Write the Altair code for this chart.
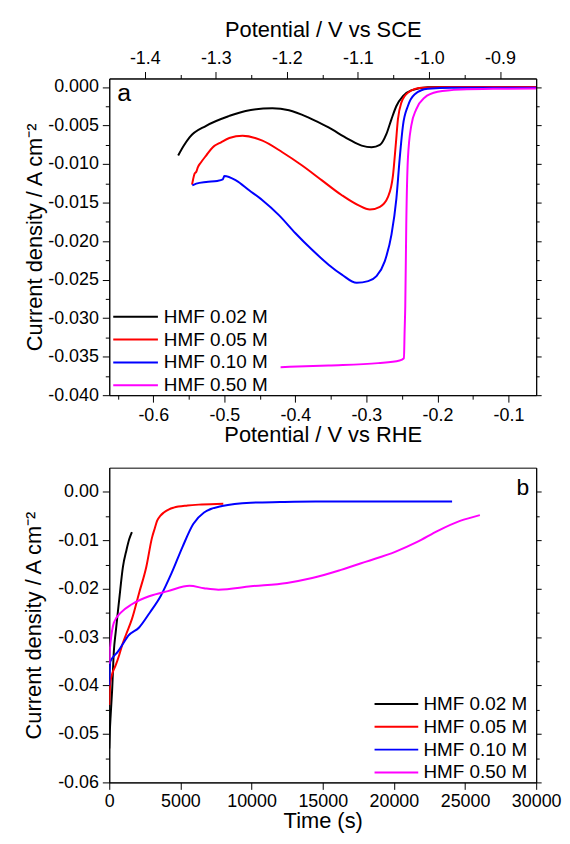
import altair as alt
import pandas as pd

FONT = "Liberation Sans"

series_labels = ["HMF 0.02 M", "HMF 0.05 M", "HMF 0.10 M", "HMF 0.50 M"]
series_colors = ["#000000", "#ff0000", "#0000ff", "#ff00ff"]

# ---------- Panel a: LSV curves (potential vs RHE, current density) ----------
rhe_002 = [-0.565, -0.557, -0.549, -0.5256, -0.493, -0.470, -0.4324, -0.409, -0.3813, -0.3533,
           -0.3254, -0.3067, -0.2927, -0.281, -0.2718, -0.2648, -0.2578, -0.2486, -0.2369, -0.2137,
           -0.18, -0.12, -0.061]
j_002 = [-0.0089, -0.0076, -0.00654, -0.00504, -0.00376, -0.00311, -0.00277, -0.00302, -0.00397, -0.00526,
         -0.00676, -0.00761, -0.00783, -0.00753, -0.0061, -0.0042, -0.00247, -0.00118, -0.00045, -0.00005,
         0.0, 0.0, 0.0]

rhe_005 = [-0.5455, -0.5440, -0.5419, -0.5395, -0.5372, -0.5330, -0.5256, -0.5162, -0.5046, -0.493,
           -0.4743, -0.4464, -0.4184, -0.3905, -0.3626, -0.3346, -0.3115, -0.2951, -0.281, -0.2696,
           -0.2626, -0.2588, -0.2556, -0.2508, -0.2416, -0.2229, -0.18, -0.12, -0.061]
j_005 = [-0.01268, -0.0120, -0.01126, -0.0110, -0.0104, -0.0098, -0.0089, -0.00783, -0.00718, -0.00663,
         -0.00633, -0.00697, -0.00847, -0.01019, -0.01212, -0.01405, -0.01534, -0.0159, -0.01555, -0.01426,
         -0.01148, -0.00762, -0.00418, -0.00203, -0.00075, -0.0001, 0.0, 0.0, 0.0]

rhe_010 = [-0.5451, -0.5395, -0.5256, -0.5100, -0.5022, -0.5000, -0.4837, -0.4651, -0.4464, -0.4232,
           -0.3999, -0.3765, -0.3533, -0.3346, -0.3137, -0.2975, -0.2858, -0.2742, -0.2648, -0.2578,
           -0.2532, -0.2486, -0.2416, -0.2323, -0.2137, -0.18, -0.12, -0.061]
j_010 = [-0.01277, -0.01255, -0.01233, -0.0122, -0.0120, -0.01156, -0.01212, -0.01341, -0.0147, -0.01663,
         -0.01898, -0.02113, -0.02306, -0.02435, -0.02542, -0.0252, -0.02456, -0.02263, -0.0192, -0.01448,
         -0.00933, -0.00504, -0.00247, -0.00097, -0.00023, -0.0001, -0.0001, -0.0001]

rhe_050 = [-0.4208, -0.3533, -0.2835, -0.2532, -0.2472, -0.2462, -0.2453, -0.2439, -0.2416, -0.2369,
           -0.2299, -0.2183, -0.1997, -0.167, -0.1205, -0.061]
j_050 = [-0.03636, -0.03614, -0.03584, -0.0355, -0.0352, -0.03164, -0.02842, -0.01791, -0.00933, -0.00504,
         -0.0029, -0.00139, -0.00062, -0.00032, -0.00023, -0.0002]

# ---------- Panel b: chronoamperometry (time, current density) ----------
t_002 = [0, 40, 100, 200, 320, 450, 700, 960, 1210, 1400, 1590]
jt_002 = [-0.053, -0.0495, -0.046, -0.041, -0.033, -0.029, -0.0222, -0.0155, -0.012, -0.0098, -0.0083]

t_005 = [0, 70, 250, 452, 700, 900, 1200, 1590, 2097, 2605, 3000, 3200, 3365, 3600, 3832, 4200, 4528,
         5500, 6500, 8012]
jt_005 = [-0.044, -0.0395, -0.0372, -0.0358, -0.0337, -0.0317, -0.0293, -0.02628, -0.02087, -0.01545,
          -0.0095, -0.0075, -0.00596, -0.0049, -0.00427, -0.0036, -0.00325, -0.0028, -0.0026, -0.00244]

t_010 = [0, 70, 300, 578, 1000, 1338, 2097, 2857, 3616, 4376, 5142, 5901, 6660, 7928, 9949, 12000,
         14512, 18000, 21000, 24090]
jt_010 = [-0.040, -0.0351, -0.0340, -0.0331, -0.0312, -0.0297, -0.0280, -0.0249, -0.0215, -0.0168,
          -0.0114, -0.00664, -0.00427, -0.00291, -0.00224, -0.0021, -0.002, -0.002, -0.002, -0.002]

t_050 = [0, 30, 70, 325, 830, 1590, 2857, 4126, 5643, 6660, 7670, 9949, 12484, 14260, 16288, 18060,
         20087, 21605, 23124, 24650, 26043]
jt_050 = [-0.0355, -0.033, -0.0317, -0.027, -0.0249, -0.0232, -0.0215, -0.0205, -0.0194, -0.0199,
          -0.0202, -0.0195, -0.0188, -0.0178, -0.0161, -0.0144, -0.0124, -0.0104, -0.008, -0.006, -0.0048]

# axis settings
SCE_OFFSET = 0.788
rhe_domain = [-0.662, -0.061]
sce_domain = [rhe_domain[0] - SCE_OFFSET, rhe_domain[1] - SCE_OFFSET]
ja_domain = [-0.040, 0.0011]
time_domain = [0, 30000]
jb_domain = [-0.060, 0.005]

rhe_ticks = [round(-0.65 + 0.05 * i, 2) for i in range(12)]
sce_ticks = [round(-1.40 + 0.05 * i, 2) for i in range(11)]
ja_ticks = [round(-0.040 + 0.0025 * i, 4) for i in range(17)]
time_ticks = [2500 * i for i in range(13)]
jb_ticks = [round(-0.060 + 0.005 * i, 3) for i in range(13)]

rows = []
for lab, xs, ys in zip(series_labels, [rhe_002, rhe_005, rhe_010, rhe_050], [j_002, j_005, j_010, j_050]):
    for i, (xv, yv) in enumerate(zip(xs, ys)):
        rows.append({"series": lab, "i": i, "rhe": xv, "j": yv})
df_a = pd.DataFrame(rows)

rows = []
for lab, xs, ys in zip(series_labels, [t_002, t_005, t_010, t_050], [jt_002, jt_005, jt_010, jt_050]):
    for i, (xv, yv) in enumerate(zip(xs, ys)):
        rows.append({"series": lab, "i": i, "t": xv, "j": yv})
df_b = pd.DataFrame(rows)


def is_major(mult):
    return f"abs(datum.value*{mult} - round(datum.value*{mult})) < 0.001"


def lab_expr(mult, fmt):
    return (f"{is_major(mult)} ? (datum.value < 0 ? '-' : '') + format(abs(datum.value), '{fmt}') : ''")


def tsize(mult, major=7, minor=4):
    return {"condition": {"test": is_major(mult), "value": major}, "value": minor}


common_axis = dict(labelFont=FONT, titleFont=FONT, labelFontSize=18, titleFontSize=22,
                   titleFontWeight="normal", labelOverlap=False, labelFlush=False, grid=False,
                   domainColor="black", tickColor="black", labelColor="black", titleColor="black")

W, HA, HB = 430, 319, 317


def legend(x, y, line_len, gap):
    # custom horizontal-line symbol: path spans -2.5..2.5 in unit box, scaled by sqrt(size)/2
    r = line_len / 5.0
    size = (2 * r) ** 2
    return alt.Legend(title=None, orient="none", legendX=x + 1.5 * r, legendY=y,
                      symbolType="M-2.5,0H2.5", symbolSize=size, symbolStrokeWidth=2,
                      symbolFillColor="transparent",
                      labelFont=FONT, labelFontSize=19, labelColor="black",
                      labelOffset=1.5 * r + gap, rowPadding=3, padding=0, labelLimit=0)


# ----- Panel a -----
color_a = alt.Color("series:N", scale=alt.Scale(domain=series_labels, range=series_colors),
                    legend=legend(3, 230, 45, 5))

ya_scale = alt.Scale(domain=ja_domain, nice=False, zero=False)

lines_a = alt.Chart(df_a).mark_line(strokeWidth=2, interpolate="monotone", clip=True).encode(
    x=alt.X("rhe:Q", scale=alt.Scale(domain=rhe_domain, nice=False, zero=False),
            axis=alt.Axis(orient="bottom", title="Potential / V vs RHE", values=rhe_ticks,
                          labelExpr=lab_expr(10, ".1f"), tickSize=tsize(10), labelPadding=4,
                          titlePadding=1, **common_axis)),
    y=alt.Y("j:Q", scale=ya_scale,
            axis=alt.Axis(orient="left", title="Current density / A cm⁻²", values=ja_ticks,
                          labelExpr=lab_expr(200, ".3f"), tickSize=tsize(200), labelPadding=4,
                          titlePadding=1, **common_axis)),
    color=color_a,
    order="i:Q",
)

top_a = alt.Chart(df_a).mark_line(opacity=0).transform_calculate(
    sce=f"datum.rhe - {SCE_OFFSET}"
).encode(
    x=alt.X("sce:Q", scale=alt.Scale(domain=sce_domain, nice=False, zero=False),
            axis=alt.Axis(orient="top", title="Potential / V vs SCE", values=sce_ticks,
                          labelExpr=lab_expr(10, ".1f"), tickSize=tsize(10), labelPadding=4,
                          titlePadding=8, **common_axis)),
    y=alt.Y("j:Q", scale=ya_scale,
            axis=alt.Axis(orient="right", title=None, labels=False, values=ja_ticks,
                          tickSize=tsize(200, 5, 3), **common_axis)),
    detail="series:N",
)

txt_a = alt.Chart(pd.DataFrame({"t": ["a"]})).mark_text(
    align="left", baseline="alphabetic", font=FONT, fontSize=25, color="black"
).encode(x=alt.value(8), y=alt.value(23), text="t:N")

panel_a = alt.layer(lines_a, top_a, txt_a).resolve_scale(x="independent").resolve_axis(
    y="independent").properties(width=W, height=HA)

# ----- Panel b -----
color_b = alt.Color("series:N", scale=alt.Scale(domain=series_labels, range=series_colors),
                    legend=legend(266, 228, 44, 4))

yb_scale = alt.Scale(domain=jb_domain, nice=False, zero=False)
xb_scale = alt.Scale(domain=time_domain, nice=False, zero=False)

lines_b = alt.Chart(df_b).mark_line(strokeWidth=2, interpolate="monotone", clip=True).encode(
    x=alt.X("t:Q", scale=xb_scale,
            axis=alt.Axis(orient="bottom", title="Time (s)", values=time_ticks,
                          labelExpr="datum.value % 5000 == 0 ? format(datum.value, 'd') : ''",
                          tickSize={"condition": {"test": "datum.value % 5000 == 0", "value": 7},
                                    "value": 4},
                          labelPadding=3, titlePadding=0, **common_axis)),
    y=alt.Y("j:Q", scale=yb_scale,
            axis=alt.Axis(orient="left", title="Current density / A cm⁻²", values=jb_ticks,
                          labelExpr=lab_expr(100, ".2f"), tickSize=tsize(100), labelPadding=4,
                          titlePadding=12, **common_axis)),
    color=color_b,
    order="i:Q",
)

right_b = alt.Chart(df_b).mark_line(opacity=0).encode(
    x=alt.X("t:Q", scale=xb_scale),
    y=alt.Y("j:Q", scale=yb_scale,
            axis=alt.Axis(orient="right", title=None, labels=False, values=jb_ticks,
                          tickSize=tsize(100, 5, 3), **common_axis)),
    detail="series:N",
)

txt_b = alt.Chart(pd.DataFrame({"t": ["b"]})).mark_text(
    align="right", baseline="alphabetic", font=FONT, fontSize=23, color="black"
).encode(x=alt.value(423), y=alt.value(28), text="t:N")

panel_b = alt.layer(lines_b, right_b, txt_b).resolve_axis(y="independent").properties(
    width=W, height=HB)

chart = alt.vconcat(panel_a, panel_b, spacing=20).resolve_scale(
    color="independent").resolve_legend(color="independent").properties(
    padding={"left": 14, "top": 7, "right": 0, "bottom": 0}
).configure_view(stroke="black", strokeWidth=1)

chart.save("out.html", embed_options={"renderer": "svg", "actions": False})
